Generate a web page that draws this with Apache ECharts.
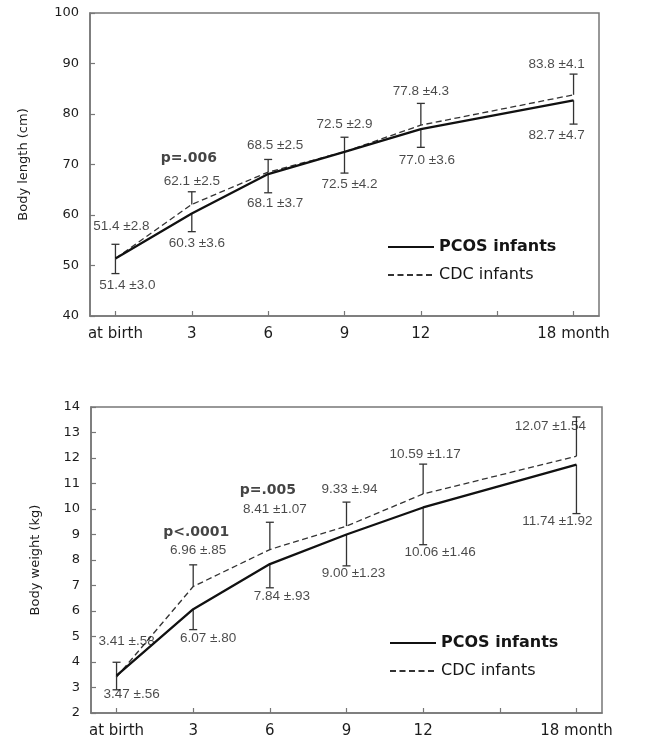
<!DOCTYPE html>
<html>
<head>
<meta charset="utf-8">
<script src="https://cdn.jsdelivr.net/npm/echarts@6/dist/echarts.min.js"></script>
<style>
html,body{margin:0;padding:0;background:#fff;}
#chart{width:648px;height:742px;}
</style>
</head>
<body>
<div id="chart"></div>
<script>
// ---- data ----
const months = [0, 3, 6, 9, 12, 18];
const tickMonths = [0, 3, 6, 9, 12, 15, 18];
const labelMonths = [0, 3, 6, 9, 12, 18];
const xTickLabels = ['at birth', '3', '6', '9', '12', '18 month'];

const lengthPcosMean = [51.4, 60.3, 68.1, 72.5, 77.0, 82.7];
const lengthPcosSd   = [3.0, 3.6, 3.7, 4.2, 3.6, 4.7];
const lengthCdcMean  = [51.4, 62.1, 68.5, 72.5, 77.8, 83.8];
const lengthCdcSd    = [2.8, 2.5, 2.5, 2.9, 4.3, 4.1];

const weightPcosMean = [3.47, 6.07, 7.84, 9.00, 10.06, 11.74];
const weightPcosSd   = [0.56, 0.80, 0.93, 1.23, 1.46, 1.92];
const weightCdcMean  = [3.41, 6.96, 8.41, 9.33, 10.59, 12.07];
const weightCdcSd    = [0.58, 0.85, 1.07, 0.94, 1.17, 1.54];

const lengthAxis = {min: 40, max: 100, interval: 10};
const weightAxis = {min: 2, max: 14, interval: 1};

const pLength = [{month: 3, text: 'p=.006'}];
const pWeight = [{month: 3, text: 'p<.0001'}, {month: 6, text: 'p=.005'}];

// ---- label layout (pixel offsets) ----
const lengthCdcOff  = [[6,-32],[0,-23],[7,-27],[0,-28],[0,-34],[-17,-31]];
const lengthPcosOff = [[12,27],[5,30],[7,29],[5,32],[6,31],[-17,35]];
const weightCdcOff  = [[10,-36],[5,-36],[5,-40],[3,-37],[2,-40],[-26,-30]];
const weightPcosOff = [[15,19],[15,29],[12,32],[7,39],[17,45],[-19,57]];
const pLengthOff = [[-3,-46]];
const pWeightOff = [[3,-54],[-2,-59]];

const AXIS_COLOR = '#777';
const TEXT_COLOR = '#1c1c1c';
const SANS = '"DejaVu Sans", sans-serif';
const ARIAL = '"Liberation Sans", Arial, sans-serif';

function fmtLen(v) { return v.toFixed(1); }
function fmtW(v) { const s = v.toFixed(2); return v < 1 ? s.replace(/^0/, '') : s; }

function xAxisFor(gi) {
  return {
    type: 'value', gridIndex: gi, min: -1, max: 19,
    splitLine: {show: false},
    axisLine: {show: true, onZero: false, lineStyle: {color: AXIS_COLOR, width: 1.5}},
    axisTick: {show: true, inside: true, length: 5, customValues: tickMonths,
               lineStyle: {color: AXIS_COLOR, width: 1.2}},
    axisLabel: {customValues: labelMonths, margin: 11,
      formatter: v => xTickLabels[labelMonths.indexOf(v)],
      fontFamily: SANS, fontSize: 15, color: TEXT_COLOR}
  };
}
function yAxisFor(gi, ax, name, gap) {
  return {
    type: 'value', gridIndex: gi, min: ax.min, max: ax.max, interval: ax.interval,
    splitLine: {show: false},
    axisLine: {show: true, onZero: false, lineStyle: {color: AXIS_COLOR, width: 1.5}},
    axisTick: {show: true, inside: true, length: 5, lineStyle: {color: AXIS_COLOR, width: 1.2}},
    axisLabel: {margin: 11, fontFamily: SANS, fontSize: 13, color: TEXT_COLOR},
    name: name, nameLocation: 'middle', nameRotate: 90, nameGap: gap,
    nameTextStyle: {fontFamily: SANS, fontSize: 13, color: TEXT_COLOR}
  };
}

function errSeries(gi, means, sds, sign) {
  return {
    type: 'custom', xAxisIndex: gi, yAxisIndex: gi, silent: true, z: 2,
    data: months.map((m, i) => [m, means[i], sign * sds[i]]),
    renderItem: function (params, api) {
      const x = api.value(0), y = api.value(1), e = api.value(2);
      const p0 = api.coord([x, y]);
      const p1 = api.coord([x, y + e]);
      const st = {stroke: '#333', lineWidth: 1.3};
      return {type: 'group', children: [
        {type: 'line', shape: {x1: p0[0], y1: p0[1], x2: p1[0], y2: p1[1]}, style: st},
        {type: 'line', shape: {x1: p1[0] - 4, y1: p1[1], x2: p1[0] + 4, y2: p1[1]}, style: st}
      ]};
    }
  };
}
function lineSeries(gi, name, means, dashed) {
  return {
    type: 'line', name: name, xAxisIndex: gi, yAxisIndex: gi, symbol: 'none', z: 3,
    data: months.map((m, i) => [m, means[i]]),
    lineStyle: dashed ? {color: '#333', width: 1.3, type: [6, 3.5]} : {color: '#111', width: 2.3},
    itemStyle: {color: dashed ? '#333' : '#111'}
  };
}
function labelSeries(gi, means, sds, offs, fmt) {
  return {
    type: 'scatter', xAxisIndex: gi, yAxisIndex: gi, symbolSize: 0, silent: true, z: 4,
    data: months.map((m, i) => ({
      value: [m, means[i]],
      label: {show: true, position: 'inside', offset: offs[i], align: 'center', verticalAlign: 'middle',
        formatter: fmt(means[i]) + ' \u00b1' + fmt(sds[i]),
        fontFamily: ARIAL, fontSize: 13.5, color: TEXT_COLOR}
    }))
  };
}
function pSeries(gi, items, means, offs) {
  return {
    type: 'scatter', xAxisIndex: gi, yAxisIndex: gi, symbolSize: 0, silent: true, z: 4,
    data: items.map((p, i) => ({
      value: [p.month, means[months.indexOf(p.month)]],
      label: {show: true, position: 'inside', offset: offs[i], align: 'center', verticalAlign: 'middle',
        formatter: p.text, fontFamily: SANS, fontSize: 14, fontWeight: 'bold', color: '#151515'}
    }))
  };
}
function legendFor(left, top) {
  return {
    left: left, top: top, orient: 'vertical', itemWidth: 46, itemHeight: 14, itemGap: 12,
    padding: 0, selectedMode: false,
    itemStyle: {opacity: 0},
    data: [{name: 'PCOS infants', textStyle: {fontWeight: 'bold'}}, {name: 'CDC infants'}],
    textStyle: {fontFamily: SANS, fontSize: 16, color: '#151515'}
  };
}

const chart = echarts.init(document.getElementById('chart'), null, {renderer: 'canvas'});
chart.setOption({
  animation: false,
  backgroundColor: '#fff',
  grid: [
    {left: 90, top: 13, right: 49, height: 303, show: true, borderColor: AXIS_COLOR, borderWidth: 1.5},
    {left: 91, top: 407, right: 46, height: 306, show: true, borderColor: AXIS_COLOR, borderWidth: 1.5}
  ],
  xAxis: [xAxisFor(0), xAxisFor(1)],
  yAxis: [yAxisFor(0, lengthAxis, 'Body length (cm)', 60), yAxisFor(1, weightAxis, 'Body weight (kg)', 49)],
  legend: [legendFor(387, 239), legendFor(389, 635)],
  series: [
    errSeries(0, lengthCdcMean, lengthCdcSd, 1),
    errSeries(0, lengthPcosMean, lengthPcosSd, -1),
    lineSeries(0, 'CDC infants', lengthCdcMean, true),
    lineSeries(0, 'PCOS infants', lengthPcosMean, false),
    labelSeries(0, lengthCdcMean, lengthCdcSd, lengthCdcOff, fmtLen),
    labelSeries(0, lengthPcosMean, lengthPcosSd, lengthPcosOff, fmtLen),
    pSeries(0, pLength, lengthCdcMean, pLengthOff),

    errSeries(1, weightCdcMean, weightCdcSd, 1),
    errSeries(1, weightPcosMean, weightPcosSd, -1),
    lineSeries(1, 'CDC infants', weightCdcMean, true),
    lineSeries(1, 'PCOS infants', weightPcosMean, false),
    labelSeries(1, weightCdcMean, weightCdcSd, weightCdcOff, fmtW),
    labelSeries(1, weightPcosMean, weightPcosSd, weightPcosOff, fmtW),
    pSeries(1, pWeight, weightCdcMean, pWeightOff)
  ]
});
</script>
</body>
</html>
